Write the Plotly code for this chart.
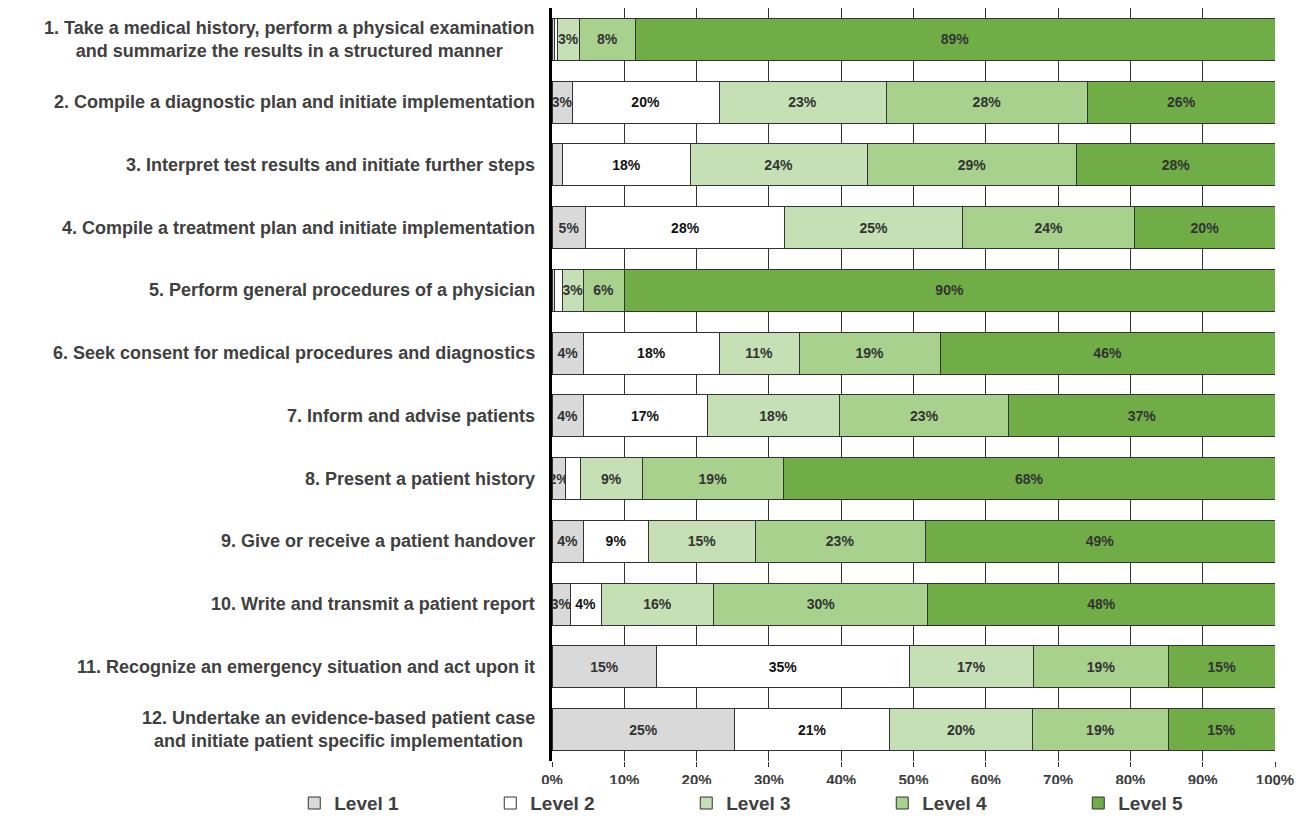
import plotly.graph_objects as go

categories = [
    "1. Take a medical history, perform a physical examination<br>and summarize the results in a structured manner",
    "2. Compile a diagnostic plan and initiate implementation",
    "3. Interpret test results and initiate further steps",
    "4. Compile a treatment plan and initiate implementation",
    "5. Perform general procedures of a physician",
    "6. Seek consent for medical procedures and diagnostics",
    "7. Inform and advise patients",
    "8. Present a patient history",
    "9. Give or receive a patient handover",
    "10. Write and transmit a patient report",
    "11. Recognize an emergency situation and act upon it",
    "12. Undertake an evidence-based patient case<br>and initiate patient specific implementation",
]

level_names = ["Level 1", "Level 2", "Level 3", "Level 4", "Level 5"]

level1 = [0.3, 2.8, 1.5, 4.7, 0.4, 4.4, 4.3, 1.9, 4.3, 2.5, 14.5, 25.3]
level2 = [0.4, 20.3, 17.6, 27.5, 1.1, 18.7, 17.2, 2.0, 9.1, 4.3, 34.9, 21.4]
level3 = [3.1, 23.1, 24.5, 24.6, 2.8, 11.1, 18.3, 8.6, 14.7, 15.6, 17.2, 19.8]
level4 = [7.7, 27.9, 29.0, 23.8, 5.7, 19.5, 23.4, 19.5, 23.5, 29.6, 18.7, 18.7]
level5 = [88.5, 25.9, 27.4, 19.4, 90.0, 46.3, 36.8, 68.0, 48.4, 48.0, 14.7, 14.8]

labels1 = ["", "3%", "", "5%", "", "4%", "4%", "2%", "4%", "3%", "15%", "25%"]
labels2 = ["", "20%", "18%", "28%", "", "18%", "17%", "", "9%", "4%", "35%", "21%"]
labels3 = ["3%", "23%", "24%", "25%", "3%", "11%", "18%", "9%", "15%", "16%", "17%", "20%"]
labels4 = ["8%", "28%", "29%", "24%", "6%", "19%", "23%", "19%", "23%", "30%", "19%", "19%"]
labels5 = ["89%", "26%", "28%", "20%", "90%", "46%", "37%", "68%", "49%", "48%", "15%", "15%"]

x_ticks = [0, 10, 20, 30, 40, 50, 60, 70, 80, 90, 100]
x_tick_labels = ["0%", "10%", "20%", "30%", "40%", "50%", "60%", "70%", "80%", "90%", "100%"]

colors = ["#d9d9d9", "#ffffff", "#c5e0b4", "#a9d18e", "#70ad47"]
text_colors = ["#333333", "#111111", "#333333", "#333333", "#333333"]

FONT = "Liberation Sans, Arial, sans-serif"

fig = go.Figure()
series = [level1, level2, level3, level4, level5]
labels = [labels1, labels2, labels3, labels4, labels5]
for name, vals, labs, col, tcol in zip(level_names, series, labels, colors, text_colors):
    fig.add_trace(go.Bar(
        y=categories, x=vals, name=name, orientation="h",
        marker=dict(color=col, line=dict(color="#333333", width=1)),
        width=0.67,
        text=labs, textposition="inside", insidetextanchor="middle",
        textangle=0, constraintext="none",
        textfont=dict(family=FONT, size=14, color=tcol, weight="bold"),
        hoverinfo="skip",
    ))

for cat in categories:
    fig.add_annotation(
        x=0, xref="paper", y=cat, yref="y", xanchor="right", yanchor="middle",
        xshift=-15, text=cat, showarrow=False, align="center",
        font=dict(family=FONT, size=18, color="#404040", weight="bold"),
    )

fig.update_layout(
    width=1308, height=816,
    margin=dict(l=552, r=33, t=8, b=55, autoexpand=False),
    barmode="stack",
    plot_bgcolor="white", paper_bgcolor="white",
    uniformtext=dict(minsize=14, mode="show"),
    showlegend=True,
    legend=dict(
        orientation="h", x=-0.3565, xanchor="left", y=-0.056, yanchor="middle",
        entrywidth=151, entrywidthmode="pixels",
        font=dict(family=FONT, size=19, color="#404040", weight="bold"),
        traceorder="normal", itemclick=False, itemdoubleclick=False,
    ),
    xaxis=dict(
        range=[0, 100], tickvals=x_ticks, ticktext=x_tick_labels,
        showgrid=True, gridcolor="#333333", gridwidth=1,
        ticks="outside", ticklen=5, tickcolor="#333333", tickwidth=1,
        zeroline=False, showline=False,
        tickfont=dict(family=FONT, size=15, color="#404040", weight="bold"),
        fixedrange=True,
    ),
    yaxis=dict(
        autorange="reversed", showticklabels=False, showgrid=False,
        showline=True, linecolor="#000000", linewidth=3, ticks="",
        fixedrange=True,
    ),
)

fig.write_html("out.html")
